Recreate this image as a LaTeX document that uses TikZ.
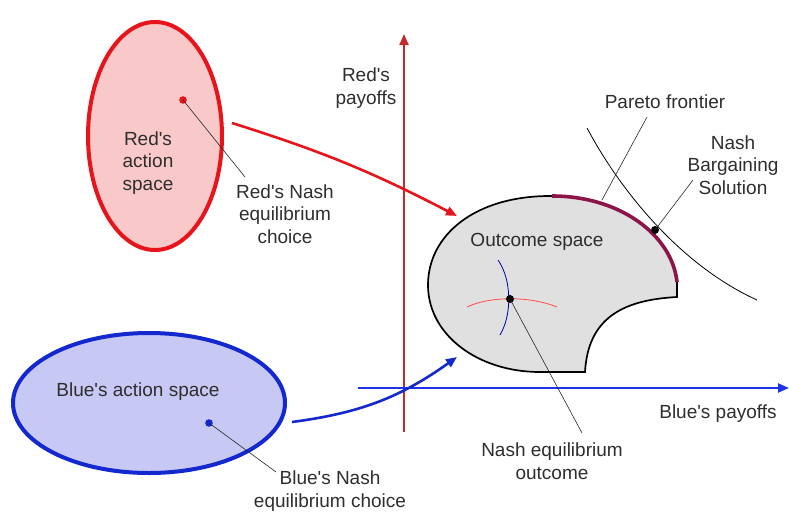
\documentclass[tikz,border=0pt]{standalone}
\usepackage{fontspec}
\setmainfont{Liberation Sans}[Ligatures=TeXOff]
\usetikzlibrary{arrows.meta}
\definecolor{redfill}{HTML}{F9C8C8}
\definecolor{redline}{HTML}{E8141C}
\definecolor{bluefill}{HTML}{C8C8F4}
\definecolor{blueline}{HTML}{1428D0}
\definecolor{axisred}{HTML}{C42A2A}
\definecolor{axisblue}{HTML}{1E32E6}
\definecolor{outfill}{HTML}{E0E0E0}
\definecolor{paretoc}{HTML}{8C1448}

\begin{document}
\begin{tikzpicture}[x=1pt,y=-1pt,
		lbl/.style={align=center, inner sep=0pt, text=black!82,
			font=\fontsize{19}{22.5}\selectfont},
		lead/.style={black!85, line width=0.6pt},
		tip/.style={-{Triangle[length=11pt,width=9pt]}}]
	\useasboundingbox (0,0) rectangle (789,514);
	% action spaces
	\draw[redline, fill=redfill, line width=4pt] (155,136) ellipse [x radius=67, y radius=114];
	\draw[blueline, fill=bluefill, line width=4pt] (149,403) ellipse [x radius=136, y radius=70];
	% payoff axes
	\draw[axisred, line width=2.2pt, tip] (404,432) -- (404,34);
	\draw[axisblue, line width=2.2pt, tip] (358,388) -- (789,388);
	% outcome space
	\draw[fill=outfill, line width=1.7pt] (677,297) .. controls (620,300) and (588,320) .. (585,372)
		-- (540,372) .. controls (478,372) and (428,335) .. (428,285)
		.. controls (428,235) and (475,196) .. (550,196)
		.. controls (620,196) and (672,235) .. (677,282) -- cycle;
	\draw[paretoc, line width=3.6pt] (552,196) .. controls (620,196) and (672,235) .. (677,282);
	% indifference curve through the bargaining solution
	\draw[black, line width=0.8pt] (587,128) .. controls (620,190) and (680,265) .. (757,300);
	% best responses
	\draw[red!70, line width=0.8pt] (467,307) .. controls (490,296) and (530,296) .. (557,307);
	\draw[blue!70!black, line width=0.8pt] (498,260) .. controls (512,280) and (512,315) .. (500,335);

	\coordinate (redpt) at (183,100);
	\coordinate (bluept) at (209,423);
	\coordinate (nept) at (510,299);
	\coordinate (nbspt) at (655,230);
	\fill[redline] (redpt) circle (3.8);
	\fill[blueline] (bluept) circle (3.8);
	\fill (nept) circle (4);
	\fill (nbspt) circle (4);

	% labels
	\node[lbl] (redact) at (148,163) {Red's\\action\\space};
	\node[lbl] (blueact) at (138,392) {Blue's action space};
	\node[lbl] (rednash) at (285,214) {Red's Nash\\equilibrium\\choice};
	\node[lbl] (bluenash) at (330,491) {Blue's Nash\\equilibrium choice};
	\node[lbl] (redpay) at (366,88) {Red's\\payoffs};
	\node[lbl] (bluepay) at (718,414) {Blue's payoffs};
	\node[lbl] (outsp) at (537,242) {Outcome space};
	\node[lbl] (pareto) at (665,102) {Pareto frontier};
	\node[lbl] (nbs) at (733,165) {Nash\\Bargaining\\Solution};
	\node[lbl] (neout) at (552,461) {Nash equilibrium\\outcome};

	% leader lines
	\coordinate (rednashend) at (245,177);
	\coordinate (bluenashend) at (276,472);
	\coordinate (neoutend) at (582,433);
	\coordinate (paretoend) at (647,117);
	\coordinate (paretoon) at (602,200);
	\coordinate (nbsend) at (693,180);
	\draw[lead] (redpt) -- (rednashend);
	\draw[lead] (bluept) -- (bluenashend);
	\draw[lead] (nept) -- (neoutend);
	\draw[lead] (paretoend) -- (paretoon);
	\draw[lead] (nbsend) -- (nbspt);

	% mappings into the outcome space
	\coordinate (redfrom) at (232,123);
	\coordinate (redto) at (457,216);
	\coordinate (bluefrom) at (292,422);
	\coordinate (blueto) at (457,357);
	\draw[redline, line width=2.6pt, tip] (redfrom) to[bend left=5] (redto);
	\draw[blueline, line width=2.6pt, tip] (bluefrom) to[bend right=14] (blueto);
\end{tikzpicture}
\end{document}
